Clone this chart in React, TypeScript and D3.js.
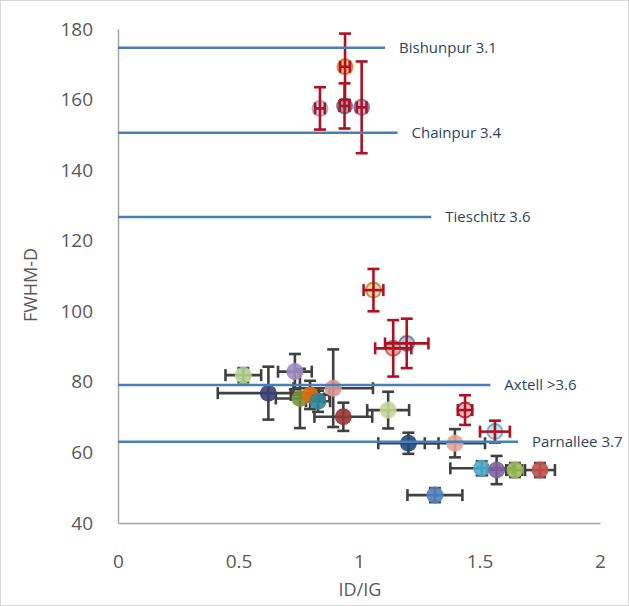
import { useEffect, useRef } from "react";
import * as d3 from "d3";

// ID/IG vs FWHM-D, each point with error bars
const idig = [0.942, 0.94, 1.011, 0.838, 1.06, 1.142, 1.198, 1.44, 1.564, 0.52, 0.734, 0.624, 0.755, 0.797, 0.83, 0.893, 0.935, 1.121, 1.205, 1.398, 1.509, 1.571, 1.647, 1.751, 1.315];
const fwhm = [169.3, 158.2, 157.8, 157.5, 106.0, 89.5, 90.9, 72.0, 65.9, 81.9, 82.9, 76.8, 75.3, 76.3, 74.5, 78.2, 70.1, 72.0, 62.6, 62.6, 55.5, 55.0, 55.0, 55.0, 47.9];
const idigErr = [0.02, 0.02, 0.02, 0.02, 0.041, 0.075, 0.09, 0.03, 0.062, 0.074, 0.07, 0.21, 0.1, 0.08, 0.05, 0.165, 0.12, 0.087, 0.125, 0.125, 0.13, 0.04, 0.03, 0.062, 0.114];
const fwhmErr = [9.4, 6.4, 13, 6, 6, 8, 7, 4.2, 3.1, 2, 5, 7.5, 8.4, 4, 3, 11, 4, 5.2, 3, 4, 2, 4, 2, 2, 2];

// reference chondrites: FWHM-D level and where the line stops on ID/IG
const refNames = ["Bishunpur 3.1", "Chainpur 3.4", "Tieschitz 3.6", "Axtell >3.6", "Parnallee 3.7"];
const refFwhm = [174.7, 150.6, 126.7, 79.1, 63.0];
const refEnd = [1.108, 1.16, 1.3, 1.545, 1.66];

const xTicks = [0, 0.5, 1, 1.5, 2];
const yTicks = [40, 60, 80, 100, 120, 140, 160, 180];

// styles per point (first 9 are the chondrite standards with red bars)
const fills = ["#f8b470", "#7f8fab", "#b7a6cc", "#c7d0e2", "#dcd394", "#e4a08e", "#a9bcd3", "#f3b9b9", "#b9dfe9", "#b3d18f", "#a08cc4", "#3b3f75", "#77933c", "#e46c0a", "#31859c", "#d99694", "#953735", "#c3d69b", "#1f497d", "#e6a493", "#4bacc6", "#8064a2", "#9bbb59", "#c0504d", "#4f81bd"];
const strokes = ["#e46c0a", "#5a6d8c", "#8064a2", "#95a3c0", "#9c8a2e", "#c0504d", "#4f6f95", "#c00000", "#4bacc6"];

export default function App() {
  const svgRef = useRef<SVGSVGElement | null>(null);

  useEffect(() => {
    if (!svgRef.current) return;
    const svg = d3.select(svgRef.current);
    svg.selectAll("*").remove();

    const x = d3.scaleLinear().domain([0, 2]).range([118, 600]);
    const y = d3.scaleLinear().domain([40, 180]).range([523, 29]);
    const font = "'Open Sans', 'Noto Sans', sans-serif";

    svg.append("rect").attr("x", 0.5).attr("y", 0.5).attr("width", 628).attr("height", 605)
      .attr("fill", "white").attr("stroke", "#d9d9d9");

    // axes
    const yAxis = svg.append("g").attr("transform", "translate(118,0)")
      .call(d3.axisLeft(y).tickValues(yTicks).tickSize(0).tickPadding(25));
    const xAxis = svg.append("g").attr("transform", "translate(0,523)")
      .call(d3.axisBottom(x).tickValues(xTicks).tickSize(0).tickPadding(32).tickFormat(d3.format("")));
    [xAxis, yAxis].forEach((a) => {
      a.select(".domain").attr("stroke", "#a6a6a6").attr("stroke-width", 1.5);
      a.selectAll("text").attr("fill", "#595959").attr("font-size", 19).attr("font-family", font);
    });

    svg.append("text").attr("x", 360).attr("y", 596).attr("text-anchor", "middle")
      .attr("fill", "#595959").attr("font-size", 18).attr("font-family", font).text("ID/IG");
    svg.append("text").attr("transform", "translate(37,285) rotate(-90)").attr("text-anchor", "middle")
      .attr("fill", "#595959").attr("font-size", 18).attr("font-family", font).text("FWHM-D");

    const pts = idig.map((v, i) => ({ x: v, y: fwhm[i], ex: idigErr[i], ey: fwhmErr[i], i }));
    const cap = 6;

    const drawBars = (g: d3.Selection<SVGGElement, unknown, null, undefined>, data: typeof pts, color: string) => {
      data.forEach((d) => {
        const cx = x(d.x), cy = y(d.y);
        const x0 = x(d.x - d.ex), x1 = x(d.x + d.ex);
        const y0 = y(d.y - d.ey), y1 = y(d.y + d.ey);
        const segs = [
          [x0, cy, x1, cy], [x0, cy - cap, x0, cy + cap], [x1, cy - cap, x1, cy + cap],
          [cx, y0, cx, y1], [cx - cap, y0, cx + cap, y0], [cx - cap, y1, cx + cap, y1],
        ];
        segs.forEach((s) => g.append("line").attr("x1", s[0]).attr("y1", s[1]).attr("x2", s[2]).attr("y2", s[3])
          .attr("stroke", color).attr("stroke-width", 2.6));
      });
    };

    const gray = pts.slice(9);
    const red = pts.slice(0, 9);

    drawBars(svg.append("g"), gray, "#404040");
    svg.append("g").selectAll("circle").data(gray).join("circle")
      .attr("cx", (d) => x(d.x)).attr("cy", (d) => y(d.y)).attr("r", 8.5)
      .attr("fill", (d) => fills[d.i]).attr("fill-opacity", 0.9);

    svg.append("g").selectAll("circle").data(red).join("circle")
      .attr("cx", (d) => x(d.x)).attr("cy", (d) => y(d.y)).attr("r", 7.5)
      .attr("fill", (d) => fills[d.i]).attr("fill-opacity", 0.85)
      .attr("stroke", (d) => strokes[d.i]).attr("stroke-width", 2).attr("stroke-opacity", 0.8);
    drawBars(svg.append("g"), red, "#b01020");

    // reference lines on top
    const refs = refNames.map((n, i) => ({ n, v: refFwhm[i], e: refEnd[i] }));
    svg.append("g").selectAll("line").data(refs).join("line")
      .attr("x1", x(0)).attr("x2", (d) => x(d.e))
      .attr("y1", (d) => y(d.v)).attr("y2", (d) => y(d.v))
      .attr("stroke", "#4a7ebb").attr("stroke-width", 2.5);
    svg.append("g").selectAll("text").data(refs).join("text")
      .attr("x", (d) => x(d.e) + 14).attr("y", (d) => y(d.v)).attr("dy", "0.35em")
      .attr("fill", "#2e4560").attr("font-size", 15).attr("font-family", font).text((d) => d.n);
  }, []);

  return (
    <div style={{ position: "absolute", left: 0, top: 0 }}>
      <svg ref={svgRef} width={629} height={606} style={{ display: "block" }} />
    </div>
  );
}
